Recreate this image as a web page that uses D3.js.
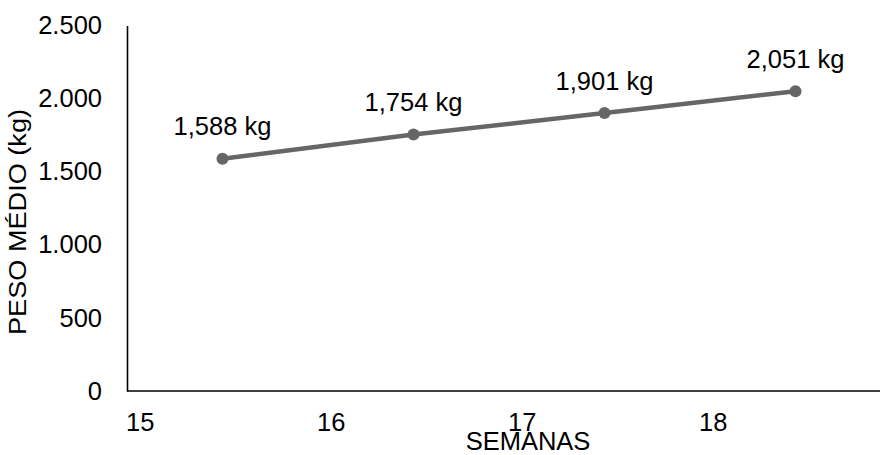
<!DOCTYPE html>
<html>
<head>
<meta charset="utf-8">
<script src="https://cdn.jsdelivr.net/npm/d3@7"></script>
<style>
  html, body { margin: 0; padding: 0; background: #fff; }
  svg { display: block; font-family: "Liberation Sans", Arial, sans-serif; }
</style>
</head>
<body>
<svg id="chart" width="880" height="455"></svg>
<script>
// Average weight per week (grams on the axis, labelled in kg)
const weeks = ["15", "16", "17", "18"];
const pesoMedio = [1588, 1754, 1901, 2051];
const yTicks = [0, 500, 1000, 1500, 2000, 2500];
const xTitle = "SEMANAS";
const yTitle = "PESO MÉDIO (kg)";

const pt = d3.formatLocale({ decimal: ",", thousands: ".", grouping: [3], currency: ["R$", ""] });
const fmtTick = pt.format(",d");
const fmtLabel = v => pt.format(".3f")(v / 1000) + " kg";

const svg = d3.select("#chart");
const plotLeft = 127, plotTop = 25.5, plotBottom = 391, bandW = 191;

const x = d3.scaleBand().domain(weeks).range([plotLeft, plotLeft + bandW * weeks.length]).padding(0);
const y = d3.scaleLinear().domain([0, 2500]).range([plotBottom, plotTop]);

const fontSize = 25.5;

// y axis
const yAxis = svg.append("g")
  .attr("transform", `translate(${plotLeft},0)`)
  .call(d3.axisLeft(y).tickValues(yTicks).tickFormat(fmtTick).tickSize(0).tickPadding(25));
yAxis.select(".domain").attr("stroke", "#000").attr("stroke-width", 1.6);
yAxis.selectAll("text").attr("font-size", fontSize).attr("fill", "#000")
  .attr("font-family", "Liberation Sans, Arial, sans-serif");

// x axis line across to the right edge
svg.append("line")
  .attr("x1", plotLeft).attr("x2", 880)
  .attr("y1", plotBottom).attr("y2", plotBottom)
  .attr("stroke", "#000").attr("stroke-width", 1.6);

// x tick labels, left-aligned at the start of each band
svg.append("g").selectAll("text")
  .data(weeks)
  .join("text")
  .attr("x", d => x(d) - 1)
  .attr("y", 431)
  .attr("font-size", fontSize)
  .attr("fill", "#000")
  .text(d => d);

// line
const line = d3.line()
  .x((d, i) => x(weeks[i]) + x.bandwidth() / 2)
  .y(d => y(d));
svg.append("path")
  .datum(pesoMedio)
  .attr("d", line)
  .attr("fill", "none")
  .attr("stroke", "#666")
  .attr("stroke-width", 4.5)
  .attr("stroke-linejoin", "round");

// markers
svg.append("g").selectAll("circle")
  .data(pesoMedio)
  .join("circle")
  .attr("cx", (d, i) => x(weeks[i]) + x.bandwidth() / 2)
  .attr("cy", d => y(d))
  .attr("r", 6)
  .attr("fill", "#666");

// value labels
svg.append("g").selectAll("text")
  .data(pesoMedio)
  .join("text")
  .attr("x", (d, i) => x(weeks[i]) + x.bandwidth() / 2)
  .attr("y", d => y(d) - 23.5)
  .attr("text-anchor", "middle")
  .attr("font-size", fontSize)
  .attr("fill", "#000")
  .text(d => fmtLabel(d));

// axis titles
svg.append("text")
  .attr("x", 528)
  .attr("y", 450)
  .attr("text-anchor", "middle")
  .attr("font-size", fontSize)
  .attr("fill", "#000")
  .text(xTitle);

svg.append("text")
  .attr("transform", "translate(26,222) rotate(-90)")
  .attr("text-anchor", "middle")
  .attr("font-size", 23)
  .attr("textLength", 226)
  .attr("lengthAdjust", "spacingAndGlyphs")
  .attr("fill", "#000")
  .text(yTitle);
</script>
</body>
</html>
